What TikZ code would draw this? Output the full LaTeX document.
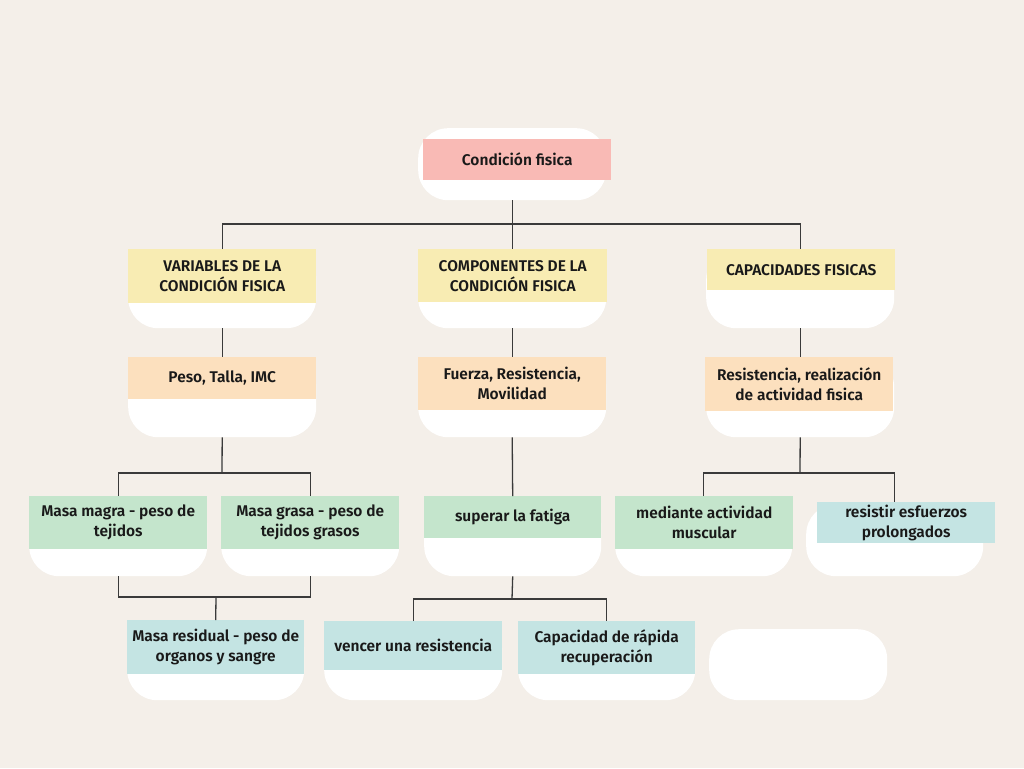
\documentclass[tikz,border=0pt]{standalone}
\usepackage{fontspec}
\setmainfont{Fira Sans SemiBold}
\definecolor{fondoclaro}{HTML}{F4EFE9}
\definecolor{rosa}{HTML}{F9BAB5}
\definecolor{amarillo}{HTML}{F8ECB3}
\definecolor{durazno}{HTML}{FCE0BE}
\definecolor{verde}{HTML}{C4E5CC}
\definecolor{celeste}{HTML}{C4E4E3}
\definecolor{linea}{HTML}{3A3A3A}
\begin{document}
\begin{tikzpicture}[x=1pt, y=-1pt,
	fondo/.style={fill=white, rounded corners=30pt, anchor=north west, inner sep=0pt},
	caja/.style={anchor=north west, inner sep=0pt, align=center, text=black!90, font=\fontsize{15.5}{20}\selectfont},
	rama/.style={draw=linea, line width=1.3pt}]
		\useasboundingbox (0,0) rectangle (1024,768);
		\fill[fondoclaro] (0,0) rectangle (1024,768);
		\node[fondo, minimum width=188, minimum height=72] (fraiz) at (418,128) {};
		\node[fondo, minimum width=188, minimum height=79] (fvar) at (128,249) {};
		\node[fondo, minimum width=188, minimum height=79] (fcomp) at (418,249) {};
		\node[fondo, minimum width=188, minimum height=79] (fcap) at (706,249) {};
		\node[fondo, minimum width=188, minimum height=80] (fpeso) at (128,357) {};
		\node[fondo, minimum width=188, minimum height=80] (ffuer) at (418,357) {};
		\node[fondo, minimum width=188, minimum height=80] (fresi) at (706,357) {};
		\node[fondo, minimum width=178, minimum height=80] (fmagra) at (29,496) {};
		\node[fondo, minimum width=178, minimum height=80] (fgrasa) at (221,496) {};
		\node[fondo, minimum width=177, minimum height=80] (ffat) at (424,496) {};
		\node[fondo, minimum width=177, minimum height=80] (fmed) at (615,496) {};
		\node[fondo, minimum width=177, minimum height=72] (fresist) at (806,504) {};
		\node[fondo, minimum width=177, minimum height=80] (fresid) at (127,620) {};
		\node[fondo, minimum width=178, minimum height=79] (fvenc) at (324,621) {};
		\node[fondo, minimum width=177, minimum height=79] (fcapr) at (518,621) {};
		\node[fondo, minimum width=178, minimum height=71] (fvacio) at (709,629) {};
		\node[caja, fill=rosa, minimum width=188, minimum height=41] (raiz) at (423,139) {Condición fisica};
		\node[caja, fill=amarillo, minimum width=188, minimum height=54] (var) at (128,249) {VARIABLES DE LA\\CONDICIÓN FISICA};
		\node[caja, fill=amarillo, minimum width=189, minimum height=53] (comp) at (418,249) {COMPONENTES DE LA\\CONDICIÓN FISICA};
		\node[caja, fill=amarillo, minimum width=188, minimum height=41] (cap) at (707,249) {CAPACIDADES FISICAS};
		\node[caja, fill=durazno, minimum width=188, minimum height=42] (peso) at (128,357) {Peso, Talla, IMC};
		\node[caja, fill=durazno, minimum width=188, minimum height=53] (fuer) at (418,357) {Fuerza, Resistencia,\\Movilidad};
		\node[caja, fill=durazno, minimum width=188, minimum height=54] (resi) at (705,357) {Resistencia, realización\\de actividad fisica};
		\node[caja, fill=verde, minimum width=178, minimum height=53] (magra) at (29,496) {Masa magra - peso de\\tejidos};
		\node[caja, fill=verde, minimum width=178, minimum height=53] (grasa) at (221,496) {Masa grasa - peso de\\tejidos grasos};
		\node[caja, fill=verde, minimum width=177, minimum height=42] (fat) at (424,496) {superar la fatiga};
		\node[caja, fill=verde, minimum width=178, minimum height=53] (med) at (615,496) {mediante actividad\\muscular};
		\node[caja, fill=celeste, minimum width=178, minimum height=41] (resist) at (817,502) {resistir esfuerzos\\prolongados};
		\node[caja, fill=celeste, minimum width=177, minimum height=54] (resid) at (127,620) {Masa residual - peso de\\organos y sangre};
		\node[caja, fill=celeste, minimum width=178, minimum height=49] (venc) at (324,621) {vencer una resistencia};
		\node[caja, fill=celeste, minimum width=177, minimum height=53] (capr) at (518,621) {Capacidad de rápida\\recuperación};
		\coordinate (n1) at (512,224);
		\coordinate (n2) at (222,473);
		\coordinate (n3) at (216,597);
		\coordinate (n4) at (512,599);
		\coordinate (n5) at (800,473);
		\draw[rama] (fraiz.south) -- (fcomp.north);
		\draw[rama] (fvar.north) |- (n1) -| (fcap.north);
		\draw[rama] (fvar.south) -- (fpeso.north);
		\draw[rama] (fcomp.south) -- (ffuer.north);
		\draw[rama] (fcap.south) -- (fresi.north);
		\draw[rama] (fpeso.south) -- (n2);
		\draw[rama] (fmagra.north) |- (n2) -| (fgrasa.north);
		\draw[rama] (fmagra.south) |- (n3) -| (fgrasa.south);
		\draw[rama] (n3) -- (fresid.north);
		\draw[rama] (ffuer.south) -- (ffat.north);
		\draw[rama] (ffat.south) -- (n4);
		\draw[rama] (fvenc.north) |- (n4) -| (fcapr.north);
		\draw[rama] (fresi.south) -- (n5);
		\draw[rama] (fmed.north) |- (n5) -| (resist.north -| fresist.north);
	\end{tikzpicture}
\end{document}
